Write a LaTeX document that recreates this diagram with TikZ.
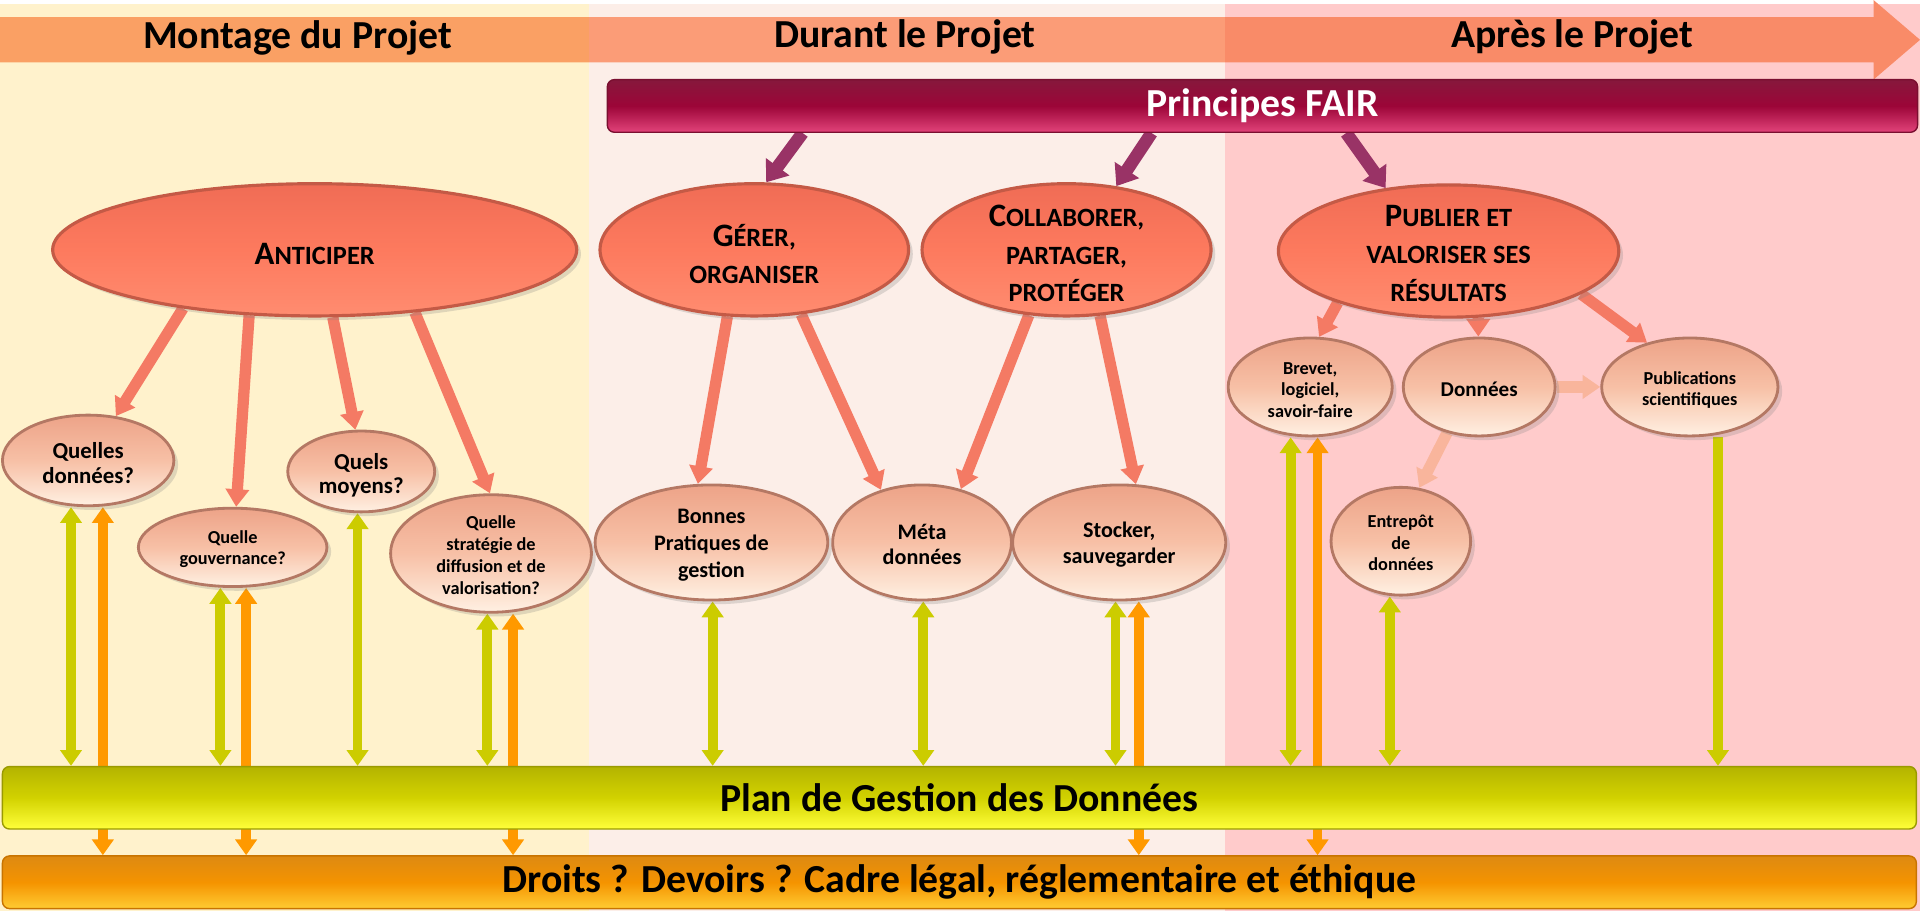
\documentclass[tikz,border=0pt]{standalone}
\usepackage{fontspec}
\setmainfont{Carlito}
\usetikzlibrary{shapes.geometric,arrows.meta,shadows}

\definecolor{colleft}{HTML}{FFF2CC}
\definecolor{colmid}{HTML}{FCEEE8}
\definecolor{colright}{HTML}{FFCBCB}
\definecolor{hdleft}{HTML}{FAA064}
\definecolor{hdmid}{HTML}{FB9C77}
\definecolor{hdright}{HTML}{F98B68}
\definecolor{fairtop}{HTML}{86183C}
\definecolor{fairmid}{HTML}{9C0538}
\definecolor{fairbot}{HTML}{E2437A}
\definecolor{fairline}{HTML}{7A0F30}
\definecolor{bigtop}{HTML}{F06C55}
\definecolor{bigmid}{HTML}{FD7A5E}
\definecolor{bigbot}{HTML}{FF8C70}
\definecolor{bigline}{HTML}{C45A46}
\definecolor{smtop}{HTML}{EDA388}
\definecolor{smmid}{HTML}{F7C0A6}
\definecolor{smbot}{HTML}{FFF0E2}
\definecolor{smline}{HTML}{B47864}
\definecolor{salmon}{HTML}{F47A64}
\definecolor{salmonlt}{HTML}{F9B59C}
\definecolor{fairarrow}{HTML}{993366}
\definecolor{pgdgreen}{HTML}{CCCC00}
\definecolor{droitorange}{HTML}{FF9900}
\definecolor{plantop}{HTML}{B4B400}
\definecolor{planmid}{HTML}{D2D200}
\definecolor{planbot}{HTML}{FFFF3A}
\definecolor{planline}{HTML}{9A9A00}
\definecolor{drtop}{HTML}{DD8A12}
\definecolor{drmid}{HTML}{F59300}
\definecolor{drbot}{HTML}{FFCC33}
\definecolor{drline}{HTML}{C87400}

\newcommand{\du}{0.012245cm}
\newcommand{\fsc}[2]{{\fontsize{9.3}{10.6}\selectfont #1}#2}

\pgfdeclarelayer{bg}
\pgfdeclarelayer{arrows}
\pgfsetlayers{bg,arrows,main}

\tikzset{%
  head text/.style={
    inner sep=0pt,
    font=\fontsize{11.3}{13}\selectfont\bfseries
  },
  bar/.style 2 args={
    rectangle,
    rounded corners=2pt,
    inner sep=0pt,
    minimum width=#1*\du,
    minimum height=#2*\du,
    font=\fontsize{11.3}{13}\selectfont\bfseries
  },
  big ellipse/.style 2 args={
    ellipse,
    inner sep=0pt,
    minimum width=#1*\du,
    minimum height=#2*\du,
    draw=bigline,
    line width=0.9pt,
    top color=bigtop, bottom color=bigbot, middle color=bigmid,
    drop shadow={opacity=0.25, shadow xshift=1.2pt, shadow yshift=-1.2pt}
  },
  small ellipse/.style 2 args={
    ellipse,
    inner sep=0pt,
    minimum width=#1*\du,
    minimum height=#2*\du,
    draw=smline,
    line width=0.8pt,
    top color=smtop, bottom color=smbot, middle color=smmid,
    drop shadow={opacity=0.25, shadow xshift=1.2pt, shadow yshift=-1.2pt}
  },
  big text/.style={
    align=center,
    inner sep=0pt,
    font=\fontsize{7.5}{10.6}\selectfont\bfseries
  },
  small text/.style 2 args={
    align=center,
    inner sep=0pt,
    font=\fontsize{#1}{#2}\selectfont\bfseries
  },
  sal arrow/.style={
    -{Triangle[width=6.5pt,length=5pt]},
    line width=3.2pt,
    draw=salmon
  },
  sal light/.style={sal arrow, draw=salmonlt},
  fair arrow/.style={
    -{Triangle[width=8pt,length=5.5pt]},
    line width=3.6pt,
    draw=fairarrow
  },
  pgd arrow/.style={
    {Triangle[width=6pt,length=4.5pt]}-{Triangle[width=6pt,length=4.5pt]},
    line width=2.8pt,
    draw=pgdgreen
  },
  pgd single/.style={
    -{Triangle[width=6pt,length=4.5pt]},
    line width=2.8pt,
    draw=pgdgreen
  },
  droit arrow/.style={pgd arrow, draw=droitorange}
}

\begin{document}
\begin{tikzpicture}[x=\du, y=-\du]

\useasboundingbox (0,0) rectangle (1568,744);

% phases of the project
\begin{pgfonlayer}{bg}
  \fill[white] (0,0) rectangle (1568,744);
  \fill[colleft] (0,3) rectangle (481,744);
  \fill[colmid] (481,3) rectangle (1000,744);
  \fill[colright] (1000,3) rectangle (1568,744);
  \begin{scope}
    \clip (0,14) -- (1530,14) -- (1530,0) -- (1568,32.5) -- (1530,65)
      -- (1530,51) -- (0,51) -- cycle;
    \fill[hdleft] (0,0) rectangle (481,65);
    \fill[hdmid] (481,0) rectangle (1000,65);
    \fill[hdright] (1000,0) rectangle (1568,65);
  \end{scope}
\end{pgfonlayer}

\node[head text] (montage) at (243,31) {Montage du Projet};
\node[head text] (durant) at (739,30) {Durant le Projet};
\node[head text] (apres) at (1284,30) {Après le Projet};

\node[bar={1070}{43}, draw=fairline, top color=fairtop, bottom color=fairbot,
  middle color=fairmid, text=white] (fair) at (1031,86.5) {Principes FAIR};

% main actions
\node[big ellipse={428}{108}] (anticiper) at (257,204) {};
\node[big ellipse={252}{108}] (gerer) at (616,204) {};
\node[big ellipse={236}{108}] (collab) at (871,204) {};
\node[big ellipse={278}{108}] (publier) at (1183,205) {};

\node[big text] (anticiper-t) at (257,207) {\fsc{A}{NTICIPER}};
\node[big text] (gerer-t) at (616,207.5) {\fsc{G}{ÉRER,}\\ORGANISER};
\node[big text] (collab-t) at (871,207) {\fsc{C}{OLLABORER,}\\PARTAGER,\\PROTÉGER};
\node[big text] (publier-t) at (1183,207) {\fsc{P}{UBLIER ET}\\VALORISER SES\\RÉSULTATS};

% questions and tasks
\node[small ellipse={140}{74}] (qdonnees) at (72,376) {};
\node[small ellipse={154}{64}] (gouv) at (190,447) {};
\node[small ellipse={120}{66}] (moyens) at (295,385) {};
\node[small ellipse={164}{96}] (strategie) at (401,452) {};
\node[small ellipse={190}{94}] (bonnes) at (581,443) {};
\node[small ellipse={146}{94}] (meta) at (753,443) {};
\node[small ellipse={174}{94}] (stocker) at (914,443) {};
\node[small ellipse={134}{80}] (brevet) at (1070,316) {};
\node[small ellipse={124}{80}] (donnees) at (1208,316) {};
\node[small ellipse={144}{80}] (pubsci) at (1380,316) {};
\node[small ellipse={114}{88}] (entrepot) at (1144,442) {};

\node[small text={6.5}{7.1}] (qdonnees-t) at (72,378) {Quelles\\données?};
\node[small text={5.2}{5.9}] (gouv-t) at (190,448.5) {Quelle\\gouvernance?};
\node[small text={6.5}{7}] (moyens-t) at (295,388) {Quels\\moyens?};
\node[small text={5.2}{6.2}] (strategie-t) at (401,453.5)
  {Quelle\\stratégie de\\diffusion et de\\valorisation?};
\node[small text={6.3}{7.7}] (bonnes-t) at (581,445) {Bonnes\\Pratiques de\\gestion};
\node[small text={6.3}{7.3}] (meta-t) at (753,444.5) {Méta\\données};
\node[small text={6.3}{7.3}] (stocker-t) at (914,444.5) {Stocker,\\sauvegarder};
\node[small text={5.2}{6.1}] (brevet-t) at (1070,318.5) {Brevet,\\logiciel,\\savoir-faire};
\node[small text={6}{7}] (donnees-t) at (1208,318) {Données};
\node[small text={5.2}{5.9}] (pubsci-t) at (1380,318.5) {Publications\\scientifiques};
\node[small text={5.2}{6.1}] (entrepot-t) at (1144,443.5) {Entrepôt\\de\\données};

% frame
\node[bar={1563}{51}, draw=planline, top color=plantop, bottom color=planbot,
  middle color=planmid] (plan) at (783.5,651.5) {Plan de Gestion des Données};
\node[bar={1563}{43}, draw=drline, top color=drtop, bottom color=drbot,
  middle color=drmid] (droits) at (783.5,720.5)
  {Droits ? Devoirs ? Cadre légal, réglementaire et éthique};

\begin{pgfonlayer}{arrows}
% FAIR
\draw[fair arrow] ([xshift=160*\du]fair.south west) -- (gerer.80);
\draw[fair arrow] ([xshift=445*\du]fair.south west) -- (collab.52);
\draw[fair arrow] ([xshift=604*\du]fair.south west) -- (publier.135);

\draw[sal arrow] (anticiper.-156) -- (qdonnees.58);
\draw[sal arrow] (anticiper.-135) -- (gouv.85);
\draw[sal arrow] (anticiper.-75) -- (moyens.98);
\draw[sal arrow] (anticiper.-32) -- (strategie.91);
\draw[sal arrow] (gerer.-112) -- (bonnes.103);
\draw[sal arrow] (gerer.-54) -- (meta.128);
\draw[sal arrow] (collab.-120) -- (meta.54);
\draw[sal arrow] (collab.-63) -- (stocker.74);
\draw[sal arrow] (publier.-155) -- (brevet.80);
\draw[sal arrow] (publier.-66) -- (donnees.91);
\draw[sal arrow] (publier.-18) -- (pubsci.134);
\draw[sal light] (donnees.east) -- (pubsci.west);
\draw[sal light] (donnees.-125) -- (entrepot.71);

% links to the plan and to the legal frame
\foreach \n/\s in {qdonnees/-14, gouv/-10, moyens/-3, strategie/-3, bonnes/1,
    meta/1, stocker/-3, brevet/-16, entrepot/-9}
  \draw[pgd arrow] ([xshift=\s*\du]\n.south) coordinate (vt) -- (vt |- plan.north);
\draw[pgd single] ([xshift=23*\du]pubsci.south) coordinate (vt) -- (vt |- plan.north);
\foreach \n/\s in {qdonnees/12, gouv/11, strategie/18, stocker/16, brevet/6}
  \draw[droit arrow] ([xshift=\s*\du]\n.south) coordinate (vt) -- (vt |- droits.north);
\end{pgfonlayer}

\end{tikzpicture}
\end{document}
